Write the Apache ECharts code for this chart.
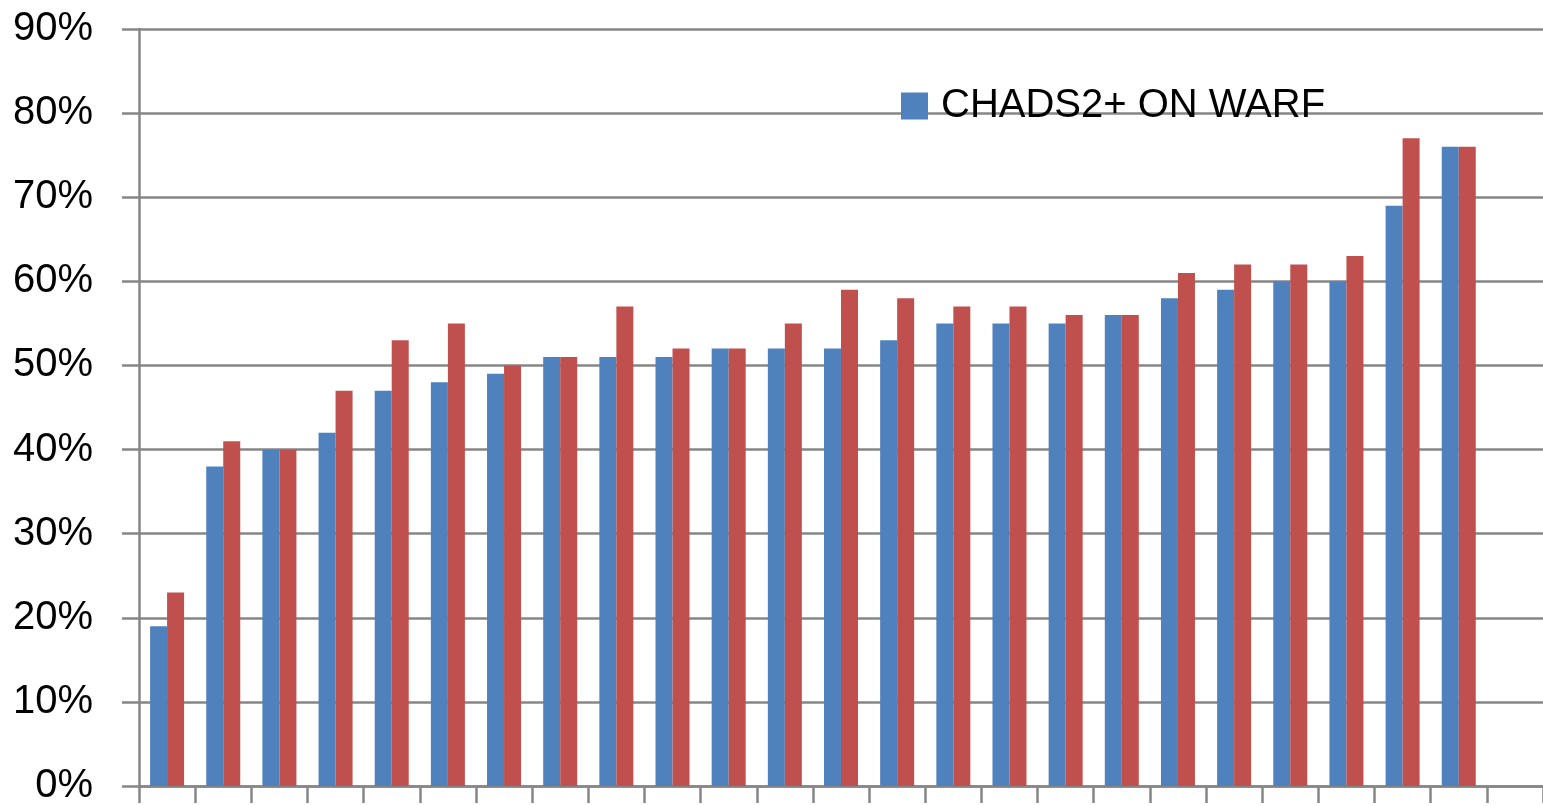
<!DOCTYPE html>
<html>
<head>
<meta charset="utf-8">
<script src="https://cdn.jsdelivr.net/npm/echarts@6/dist/echarts.min.js"></script>
<style>
html,body{margin:0;padding:0;background:#fff;}
#chart{width:1543px;height:806px;}
</style>
</head>
<body>
<div id="chart"></div>
<script>
// 24 groups plus one empty trailing slot (chart is cropped at the right)
const categories = ['1','2','3','4','5','6','7','8','9','10','11','12','13','14','15','16','17','18','19','20','21','22','23','24',''];
const seriesNames = ['CHADS2+ ON WARF', 'Comparison'];
const blueValues = [19,38,40,42,47,48,49,51,51,51,52,52,52,53,55,55,55,56,58,59,60,60,69,76];
const redValues  = [23,41,40,47,53,55,50,51,57,52,52,55,59,58,57,57,56,56,61,62,62,63,77,76];
const yTicks = { min: 0, max: 90, interval: 10 };

const chart = echarts.init(document.getElementById('chart'));
const gray = '#868686';
chart.setOption({
  animation: false,
  backgroundColor: '#ffffff',
  grid: { left: 139, right: -12, top: 29, bottom: 19, containLabel: false },
  legend: {
    data: [seriesNames[0]],
    left: 901, top: 86,
    padding: 0,
    itemWidth: 27, itemHeight: 27,
    icon: 'rect',
    textStyle: { fontFamily: 'Liberation Sans', fontSize: 40, color: '#000', padding: [0,0,0,8] }
  },
  xAxis: {
    type: 'category',
    data: categories,
    boundaryGap: true,
    axisLine: { show: true, lineStyle: { color: gray, width: 2.5 } },
    axisTick: { show: true, length: 17, inside: false, lineStyle: { color: gray, width: 2.5 } },
    axisLabel: { show: false },
    splitLine: { show: false }
  },
  yAxis: {
    type: 'value',
    min: yTicks.min, max: yTicks.max, interval: yTicks.interval,
    axisLine: { show: true, lineStyle: { color: gray, width: 2.5 } },
    axisTick: { show: true, length: 17, lineStyle: { color: gray, width: 2.5 } },
    axisLabel: {
      formatter: '{value}%',
      margin: 46,
      fontFamily: 'Liberation Sans', fontSize: 40, color: '#000'
    },
    splitLine: { show: true, lineStyle: { color: gray, width: 2.5 } }
  },
  series: [
    { name: seriesNames[0], type: 'bar', data: blueValues, barWidth: 17, barGap: '0%',
      itemStyle: { color: '#4F81BD' } },
    { name: seriesNames[1], type: 'bar', data: redValues, barWidth: 17, barGap: '0%',
      itemStyle: { color: '#C0504D' } }
  ]
});
</script>
</body>
</html>
